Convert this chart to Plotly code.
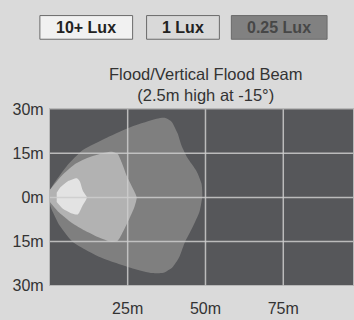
import plotly.graph_objects as go

# ---- data (metres) ----
outer_x = [0, 1, 5.4, 10.6, 18.3, 26.6, 34.3, 36.9, 39.1, 41, 42.3, 44.2, 47.1, 48.7, 49, 48.1, 45.8, 43.3, 41.5, 39.4, 36.5, 33, 26.6, 16, 7.4, 3.2, 0.6, 0]
outer_y = [2.3, 4.2, 10.6, 16.1, 20.3, 24.2, 26.8, 27.1, 25.8, 21.9, 17.7, 13.5, 9, 4.8, 0.6, -4.8, -10.3, -15.5, -20.5, -23.8, -25.7, -25.8, -24.2, -20.3, -15.2, -9.7, -4.2, -2.3]

mid_x = [0, 3.8, 8, 12.2, 17.6, 20.2, 21.8, 23.1, 24.7, 26.6, 27.9, 27.2, 25.6, 23.7, 21.8, 19.9, 15.4, 11.2, 7.1, 2.6, 0]
mid_y = [2.6, 7.4, 11.3, 13.5, 15.2, 15.5, 14.8, 11.9, 7.4, 3.2, 0, -3.2, -7.1, -11.3, -14.8, -15.2, -13.5, -11.3, -8.7, -4.8, -1.6]

inner_x = [2.2, 3.2, 5.8, 8.7, 9.6, 10.6, 11.9, 10.6, 9, 7.1, 4.2, 2.2]
inner_y = [1.6, 3.2, 5.5, 6.5, 5.5, 2.3, 0, -2.6, -5.8, -5.5, -3.9, -1.6]

x_ticks = [25, 50, 75]
x_labels = ["25m", "50m", "75m"]
y_ticks = [30, 15, 0, -15, -30]
y_labels = ["30m", "15m", "0m", "15m", "30m"]

legend_labels = ["10+ Lux", "1 Lux", "0.25 Lux"]
title_lines = ["Flood/Vertical Flood Beam", "(2.5m high at -15°)"]

# ---- styles ----
W, H = 354, 320
FONT = "Liberation Sans, Arial, sans-serif"
region_colors = ["#7f7f7f", "#b2b2b2", "#e3e3e3"]

fig = go.Figure()
for xs, ys, c in [(outer_x, outer_y, region_colors[0]),
                  (mid_x, mid_y, region_colors[1]),
                  (inner_x, inner_y, region_colors[2])]:
    fig.add_trace(go.Scatter(x=xs, y=ys, mode="lines", fill="toself",
                             fillcolor=c, line=dict(width=0, shape="spline", smoothing=0.6),
                             hoverinfo="skip", showlegend=False))

# gridlines above the regions
grid_col = "rgba(205,205,205,0.85)"
for v in x_ticks:
    fig.add_shape(type="line", xref="x", yref="y domain", x0=v, x1=v, y0=0, y1=1,
                  line=dict(color=grid_col, width=1.5), layer="above")
for v in y_ticks[1:-1]:
    fig.add_shape(type="line", xref="x domain", yref="y", x0=0, x1=1, y0=v, y1=v,
                  line=dict(color=grid_col, width=1.5), layer="above")

# legend boxes
boxes = [(40, 133, "#f1f1f1", "#222222"), (147, 220, "#d9d9d9", "#222222"), (232, 328, "#818181", "#474747")]
for (x0, x1, fc, tc), lab in zip(boxes, legend_labels):
    fig.add_shape(type="rect", xref="paper", yref="paper",
                  x0=x0 / W, x1=x1 / W, y0=1 - 33 / H, y1=1 - 8 / H,
                  fillcolor=fc, line=dict(color="#6a6a6a", width=1))
    fig.add_annotation(xref="paper", yref="paper", x=(x0 + x1) / 2 / W, y=1 - 20.5 / H,
                       text=lab, showarrow=False, xanchor="center", yanchor="middle",
                       font=dict(family=FONT, size=16, color=tc, weight="bold"))

fig.add_annotation(xref="paper", yref="paper", x=207 / W, y=1 - 80.5 / H,
                   text="<br>".join(title_lines), showarrow=False,
                   xanchor="center", yanchor="middle",
                   font=dict(family=FONT, size=16.5, color="#333333"))

fig.update_layout(
    width=W, height=H,
    margin=dict(l=0, r=0, t=0, b=0),
    paper_bgcolor="#dadada",
    plot_bgcolor="#56575a",
    showlegend=False,
    xaxis=dict(domain=[50 / W, 1], range=[0, 97.4], tickvals=x_ticks, ticktext=x_labels,
               showgrid=False, zeroline=False, showline=True, linecolor="#b8b8b8", linewidth=1,
               mirror=True, ticks="", ticklabelstandoff=8,
               tickfont=dict(family=FONT, size=16, color="#333333")),
    yaxis=dict(domain=[27 / H, 213 / H], range=[-30, 30], tickvals=y_ticks, ticktext=y_labels,
               showgrid=False, zeroline=False, showline=True, linecolor="#b8b8b8", linewidth=1,
               mirror=True, ticks="", ticklabelstandoff=2,
               tickfont=dict(family=FONT, size=16, color="#333333")),
)

fig.write_html("out.html", config={"displayModeBar": False},
               post_script="document.body.style.margin='0';document.body.style.background='#dadada';")
